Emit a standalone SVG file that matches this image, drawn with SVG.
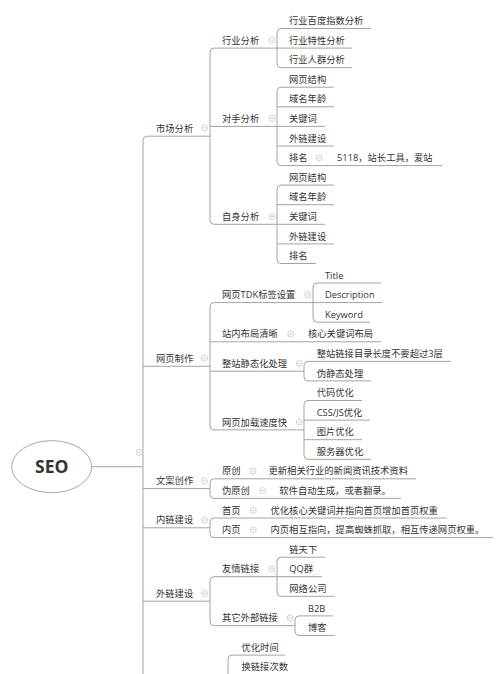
<svg xmlns="http://www.w3.org/2000/svg" xmlns:xlink="http://www.w3.org/1999/xlink" width="500" height="674" viewBox="0 0 500 674">
<style>
text{font-family:"Open Sans","Noto Sans CJK SC",sans-serif;font-size:9.3px;fill:#333}
.seo{font-size:17.5px;font-weight:bold;fill:#333}
.ln{fill:none;stroke:#a3a3a3;stroke-width:1}
</style>
<defs>
<g id="c"><circle r="3" fill="#fff" stroke="#c4c4c4" stroke-width="0.8"/><path d="M-1.7 0H1.7" stroke="#c4c4c4" stroke-width="0.8"/></g>
</defs>
<rect width="500" height="674" fill="#fff"/>
<g id="connectors" class="ln">
<path d="M91.7 466.7H143"/>
<path d="M210 136.2H147Q143 136.2 143 140.2V680"/>
<path d="M143 366.25H210M143 488.6H210M143 527.8H210M143 601.2H210"/>
<path d="M277 48.1H214Q210 48.1 210 52.1V220.3Q210 224.3 214 224.3H277M210 126.4H277"/>
<path d="M371 28.5H281Q277 28.5 277 32.5V63.7Q277 67.7 281 67.7H352M277 48.1H352"/>
<path d="M334 87.2H281Q277 87.2 277 91.2V161.6Q277 165.6 281 165.6H442M277 106.8H334M277 126.4H325M277 146H334"/>
<path d="M334 185.1H281Q277 185.1 277 189.1V259.5Q277 263.5 281 263.5H316M277 204.7H334M277 224.3H325M277 243.9H334"/>
<path d="M313 302.6H214Q210 302.6 210 306.6V425.9Q210 429.9 214 429.9H304M210 341.8H381M210 371.2H304"/>
<path d="M381 283H317Q313 283 313 287V318.2Q313 322.2 317 322.2H370M313 302.6H382"/>
<path d="M451 361.4H308Q304 361.4 304 365.4V376.9Q304 380.9 308 380.9H371"/>
<path d="M362 400.5H308Q304 400.5 304 404.5V455.3Q304 459.3 308 459.3H371M304 420.1H370M304 439.7H362"/>
<path d="M416 478.8H214Q210 478.8 210 482.8V494.4Q210 498.4 214 498.4H401"/>
<path d="M447 518H214Q210 518 210 522V533.6Q210 537.6 214 537.6H493"/>
<path d="M277 576.7H214Q210 576.7 210 580.7V621.7Q210 625.7 214 625.7H295"/>
<path d="M325 557.2H281Q277 557.2 277 561.2V592.3Q277 596.3 281 596.3H335M277 576.7H322"/>
<path d="M333 615.9H299Q295 615.9 295 619.9V631.5Q295 635.5 299 635.5H335"/>
<path d="M285 655.1H232Q228 655.1 228 659.1V680M228 674.6H290"/>
</g>
<g id="seo"><ellipse cx="51.7" cy="466.7" rx="40" ry="26" fill="#fff" stroke="#a8a8a8" stroke-width="1"/><text class="seo" x="51.7" y="473" text-anchor="middle">SEO</text><use xlink:href="#c" x="139.3" y="452.3"/></g>
<g id="n-market"><text x="156" y="131.8">市场分析</text><use xlink:href="#c" x="204.5" y="127.8"/></g>
<g id="n-industry"><text x="222" y="43.7">行业分析</text><use xlink:href="#c" x="272" y="40.3"/></g>
<g id="n-i1"><text x="289" y="24.1">行业百度指数分析</text></g>
<g id="n-i2"><text x="289" y="43.7">行业特性分析</text></g>
<g id="n-i3"><text x="289" y="63.3">行业人群分析</text></g>
<g id="n-rival"><text x="222" y="122">对手分析</text><use xlink:href="#c" x="272" y="118.6"/></g>
<g id="n-r1"><text x="289" y="82.8">网页结构</text></g>
<g id="n-r2"><text x="289" y="102.4">域名年龄</text></g>
<g id="n-r3"><text x="289" y="122">关键词</text></g>
<g id="n-r4"><text x="289" y="141.6">外链建设</text></g>
<g id="n-r5"><text x="289" y="161.2">排名</text><use xlink:href="#c" x="319" y="157.8"/></g>
<g id="n-r5a"><text x="337" y="161.2">5118，站长工具，爱站</text></g>
<g id="n-self"><text x="222" y="219.9">自身分析</text><use xlink:href="#c" x="272" y="216.5"/></g>
<g id="n-s1"><text x="289" y="180.7">网页结构</text></g>
<g id="n-s2"><text x="289" y="200.3">域名年龄</text></g>
<g id="n-s3"><text x="289" y="219.9">关键词</text></g>
<g id="n-s4"><text x="289" y="239.5">外链建设</text></g>
<g id="n-s5"><text x="289" y="259.1">排名</text></g>
<g id="n-web"><text x="156" y="361.9">网页制作</text><use xlink:href="#c" x="204.5" y="358"/></g>
<g id="n-tdk"><text x="222" y="298.2">网页TDK标签设置</text><use xlink:href="#c" x="307.7" y="294.8"/></g>
<g id="n-t1"><text x="325" y="278.6">Title</text></g>
<g id="n-t2"><text x="325" y="298.2">Description</text></g>
<g id="n-t3"><text x="325" y="317.8">Keyword</text></g>
<g id="n-layout"><text x="222" y="337.4">站内布局清晰</text><use xlink:href="#c" x="290.7" y="334"/></g>
<g id="n-l1"><text x="308" y="337.4">核心关键词布局</text></g>
<g id="n-static"><text x="222" y="366.8">整站静态化处理</text><use xlink:href="#c" x="299.3" y="363.4"/></g>
<g id="n-st1"><text x="316.7" y="357">整站链接目录长度不要超过3层</text></g>
<g id="n-st2"><text x="316.7" y="376.5">伪静态处理</text></g>
<g id="n-speed"><text x="222" y="425.5">网页加载速度快</text><use xlink:href="#c" x="299.3" y="422.1"/></g>
<g id="n-sp1"><text x="316.7" y="396.1">代码优化</text></g>
<g id="n-sp2"><text x="316.7" y="415.7">CSS/JS优化</text></g>
<g id="n-sp3"><text x="316.7" y="435.3">图片优化</text></g>
<g id="n-sp4"><text x="316.7" y="454.9">服务器优化</text></g>
<g id="n-copy"><text x="156" y="484.2">文案创作</text><use xlink:href="#c" x="204.5" y="480.8"/></g>
<g id="n-orig"><text x="222" y="474.4">原创</text><use xlink:href="#c" x="253" y="471"/></g>
<g id="n-o1"><text x="268.5" y="474.4">更新相关行业的新闻资讯技术资料</text></g>
<g id="n-pseudo"><text x="222" y="494">伪原创</text><use xlink:href="#c" x="262.7" y="490.6"/></g>
<g id="n-p1"><text x="279.3" y="494">软件自动生成，或者翻录。</text></g>
<g id="n-inner"><text x="156" y="523.4">内链建设</text><use xlink:href="#c" x="204.5" y="520"/></g>
<g id="n-home"><text x="222" y="513.6">首页</text><use xlink:href="#c" x="253.3" y="510.2"/></g>
<g id="n-h1"><text x="270.5" y="513.6">优化核心关键词并指向首页增加首页权重</text></g>
<g id="n-inpage"><text x="222" y="533.2">内页</text><use xlink:href="#c" x="253.3" y="529.8"/></g>
<g id="n-ip1"><text x="270.5" y="533.2">内页相互指向，提高蜘蛛抓取，相互传递网页权重。</text></g>
<g id="n-outer"><text x="156" y="596.8">外链建设</text><use xlink:href="#c" x="204.5" y="593.4"/></g>
<g id="n-friend"><text x="222" y="572.3">友情链接</text><use xlink:href="#c" x="271.7" y="568.9"/></g>
<g id="n-f1"><text x="289.3" y="552.8">链天下</text></g>
<g id="n-f2"><text x="289.3" y="572.3">QQ群</text></g>
<g id="n-f3"><text x="289.3" y="591.9">网络公司</text></g>
<g id="n-other"><text x="222" y="621.3">其它外部链接</text><use xlink:href="#c" x="290" y="617.9"/></g>
<g id="n-ot1"><text x="308" y="611.5">B2B</text></g>
<g id="n-ot2"><text x="308" y="631.1">博客</text></g>
<g id="n-b1"><text x="241.5" y="650.7">优化时间</text></g>
<g id="n-b2"><text x="241.5" y="670.2">换链接次数</text></g>
</svg>
